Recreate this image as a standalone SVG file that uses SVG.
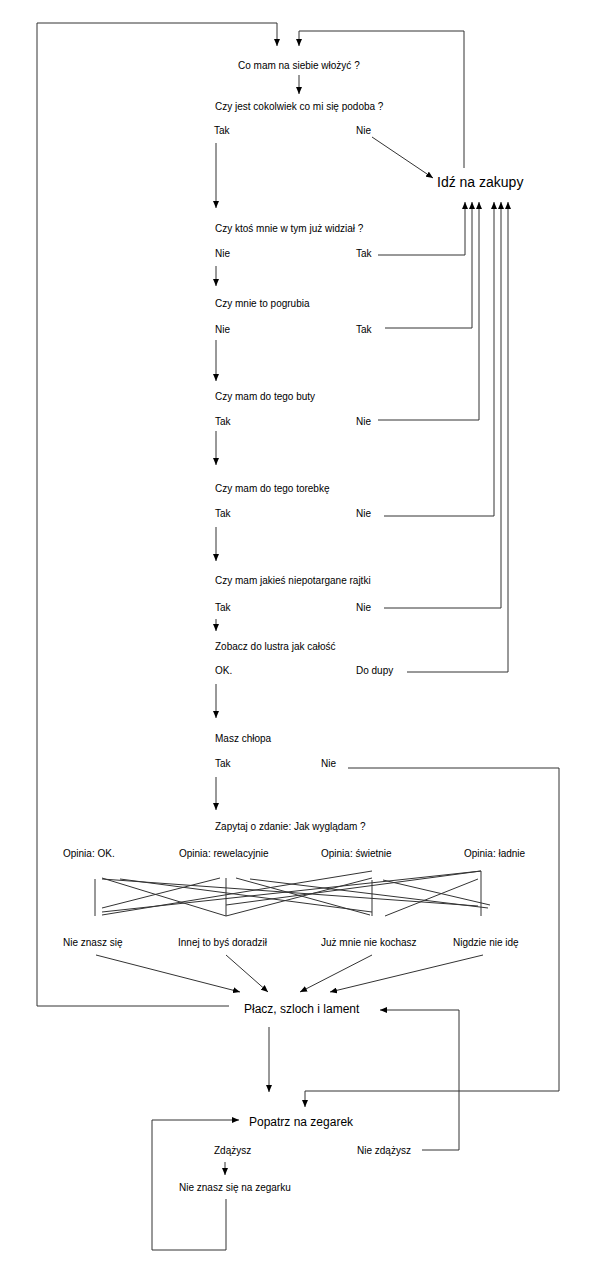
<svg xmlns="http://www.w3.org/2000/svg" width="600" height="1266" viewBox="0 0 600 1266">
<style>
text{font-family:"Liberation Sans",Arial,sans-serif;font-size:10px;fill:#000}
.big{font-size:12px}
.huge{font-size:14px}
.c{fill:none;stroke:#333;stroke-width:1}
.a{marker-end:url(#ah)}
</style>
<defs>
<marker id="ah" markerUnits="userSpaceOnUse" markerWidth="7" markerHeight="6" viewBox="0 0 7 6" refX="7" refY="3" orient="auto">
<path d="M0,0 L7,3 L0,6 z" fill="#000"/>
</marker>
</defs>
<rect width="600" height="1266" fill="#fff"/>
<g id="connectors">
<polyline class="c a" points="229,1006 37,1006 37,23 277,23 277,46"/>
<polyline class="c a" points="464,168 464,31 299,31 299,46"/>
<line class="c a" x1="299" y1="75" x2="299" y2="94"/>
<line class="c a" x1="216" y1="143" x2="216" y2="208"/>
<line class="c a" x1="372" y1="137" x2="433" y2="178"/>
<polyline class="c a" points="378,255 465,255 465,202"/>
<polyline class="c a" points="385,328 472,328 472,202"/>
<polyline class="c a" points="378,420 479,420 479,202"/>
<polyline class="c a" points="384,516 494,516 494,202"/>
<polyline class="c a" points="384,608 501,608 501,202"/>
<polyline class="c a" points="407,672 508,672 508,202"/>
<line class="c a" x1="216" y1="266" x2="216" y2="286"/>
<line class="c a" x1="216" y1="340" x2="216" y2="381"/>
<line class="c a" x1="216" y1="431" x2="216" y2="465"/>
<line class="c a" x1="216" y1="527" x2="216" y2="561"/>
<line class="c a" x1="216" y1="619" x2="216" y2="631"/>
<line class="c a" x1="216" y1="684" x2="216" y2="718"/>
<line class="c a" x1="216" y1="777" x2="216" y2="810"/>
<polyline class="c a" points="348,768 559,768 559,1091 305,1091 305,1107"/>
<g id="mesh">
<line class="c" x1="95" y1="879" x2="95" y2="916"/>
<line class="c" x1="226" y1="878" x2="226" y2="916"/>
<line class="c" x1="372" y1="880" x2="372" y2="916"/>
<line class="c" x1="481" y1="871" x2="481" y2="916"/>
<line class="c" x1="102" y1="878" x2="226" y2="916"/>
<line class="c" x1="120" y1="879" x2="372" y2="912"/>
<line class="c" x1="102" y1="879" x2="478" y2="906"/>
<line class="c" x1="220" y1="878" x2="102" y2="908"/>
<line class="c" x1="236" y1="878" x2="370" y2="915"/>
<line class="c" x1="250" y1="879" x2="488" y2="908"/>
<line class="c" x1="372" y1="871" x2="102" y2="915"/>
<line class="c" x1="372" y1="878" x2="226" y2="916"/>
<line class="c" x1="383" y1="880" x2="490" y2="905"/>
<line class="c" x1="481" y1="871" x2="102" y2="912"/>
<line class="c" x1="481" y1="871" x2="226" y2="905"/>
<line class="c" x1="478" y1="879" x2="385" y2="916"/>
</g>
<line class="c a" x1="96" y1="955" x2="240" y2="992"/>
<line class="c a" x1="226" y1="955" x2="268" y2="992"/>
<line class="c a" x1="372" y1="955" x2="300" y2="992"/>
<line class="c a" x1="483" y1="955" x2="330" y2="992"/>
<line class="c a" x1="269" y1="1027" x2="269" y2="1092"/>
<polyline class="c a" points="422,1150 459,1150 459,1010 380,1010"/>
<line class="c a" x1="225" y1="1162" x2="225" y2="1175"/>
<polyline class="c a" points="226,1199 226,1250 152,1250 152,1120 239,1120"/>
</g>
<g id="q0"><text x="238" y="68.5">Co mam na siebie włożyć ?</text></g>
<g id="q1"><text x="215" y="109.5">Czy jest cokolwiek co mi się podoba ?</text><text x="214" y="134">Tak</text><text x="356" y="134">Nie</text></g>
<g id="shop"><text class="huge" x="437" y="186.5">Idź na zakupy</text></g>
<g id="q2"><text x="215" y="231.5">Czy ktoś mnie w tym już widział ?</text><text x="215" y="257">Nie</text><text x="356" y="257">Tak</text></g>
<g id="q3"><text x="215" y="307">Czy mnie to pogrubia</text><text x="215" y="332.5">Nie</text><text x="356" y="332.5">Tak</text></g>
<g id="q4"><text x="215" y="400">Czy mam do tego buty</text><text x="215" y="425">Tak</text><text x="356" y="425">Nie</text></g>
<g id="q5"><text x="215" y="492">Czy mam do tego torebkę</text><text x="215" y="517">Tak</text><text x="356" y="517">Nie</text></g>
<g id="q6"><text x="215" y="583.5">Czy mam jakieś niepotargane rajtki</text><text x="215" y="611">Tak</text><text x="356" y="611">Nie</text></g>
<g id="q7"><text x="215" y="650">Zobacz do lustra jak całość</text><text x="215" y="674">OK.</text><text x="356" y="674">Do dupy</text></g>
<g id="q8"><text x="215" y="742">Masz chłopa</text><text x="215" y="767">Tak</text><text x="321" y="767">Nie</text></g>
<g id="q9"><text x="215" y="830">Zapytaj o zdanie: Jak wyglądam ?</text></g>
<g id="opinions"><text x="63" y="857">Opinia: OK.</text><text x="179" y="857">Opinia: rewelacyjnie</text><text x="321" y="857">Opinia: świetnie</text><text x="464" y="857">Opinia: ładnie</text></g>
<g id="replies"><text x="63" y="946">Nie znasz się</text><text x="178" y="946">Innej to byś doradził</text><text x="321" y="946">Już mnie nie kochasz</text><text x="453" y="946">Nigdzie nie idę</text></g>
<g id="cry"><text class="big" x="244" y="1013">Płacz, szloch i lament</text></g>
<g id="watch"><text class="big" x="249" y="1126">Popatrz na zegarek</text><text x="214" y="1154">Zdążysz</text><text x="357" y="1154">Nie zdążysz</text></g>
<g id="nowatch"><text x="179" y="1191">Nie znasz się na zegarku</text></g>
</svg>
